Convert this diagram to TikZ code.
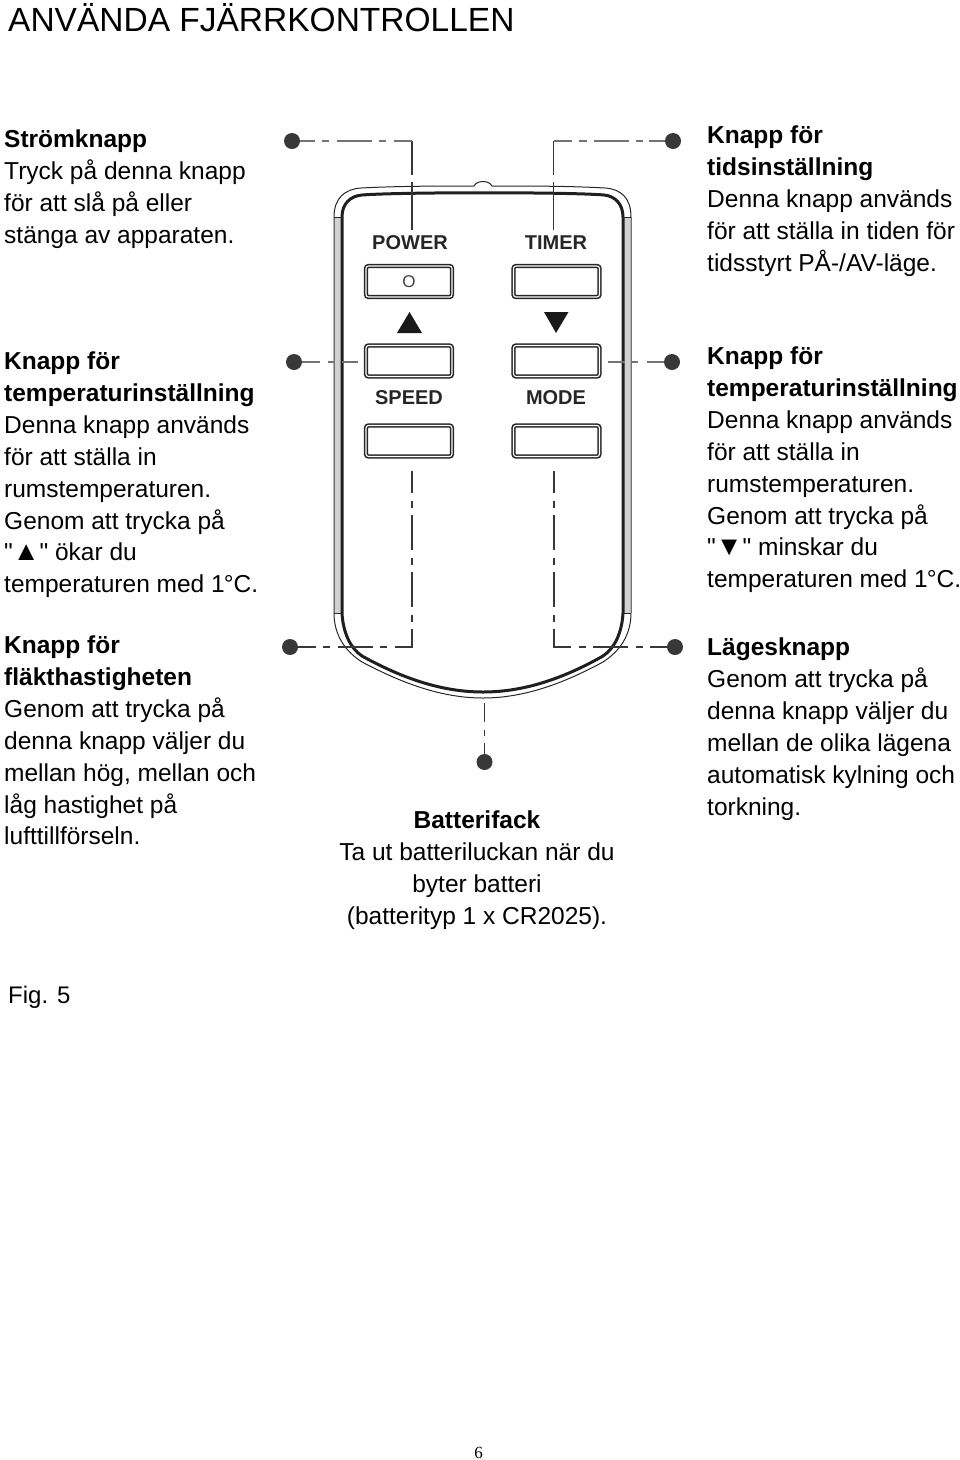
\documentclass[tikz,border=0pt]{standalone}
\usepackage{fontspec}
\setmainfont{Liberation Sans}
\newfontfamily\pagefont{Liberation Serif}
\newfontfamily\quotefont{Liberation Sans}
\newcommand{\strq}{{\quotefont\symbol{34}}}
\usetikzlibrary{positioning}
\tikzset{
  txtblock/.style={anchor=north west, inner sep=0pt, align=left, font=\fontsize{24.5}{31.9}\selectfont, execute at begin node=\strut},
  txtmid/.style={anchor=north, inner sep=0pt, align=center, font=\fontsize{24.5}{31.9}\selectfont, execute at begin node=\strut},
  keybtn/.style={draw=black!85, double=white, line width=1.6pt, double distance=1.1pt, rounded corners=2.5pt, minimum width=86pt, minimum height=31pt, inner sep=0pt},
  keylabel/.style={inner sep=0pt, text=black!85, font=\fontsize{20}{20}\selectfont\bfseries},
  leaddot/.style={circle, fill=black!78, minimum size=16pt, inner sep=0pt},
  leadthin/.style={draw=black!78, line width=1.4pt},
  leadgray/.style={draw=black!55, line width=2.2pt}
}
\begin{document}
\begin{tikzpicture}[x=1pt,y=-1pt]
\useasboundingbox (0,0) rectangle (960,1460);

\node[anchor=base west, inner sep=0pt, font=\fontsize{33.5}{36}\selectfont] (title) at (8,31) {ANVÄNDA FJÄRRKONTROLLEN};

% remote body
\fill[black!18] (335,217) rectangle (341,613);
\fill[black!18] (624,217) rectangle (630,613);
\draw[black!85, line width=1pt] (334,613) -- (334,217) .. controls (334,198) and (345,189) .. (361,188)
  .. controls (400,186) and (440,186) .. (474,186) .. controls (477,180) and (489,180) .. (492,186)
  .. controls (530,186) and (570,186) .. (605,188) .. controls (621,189) and (631,198) .. (631,217) -- (631,613)
  .. controls (631,635) and (620,651) .. (603,662) .. controls (566,682) and (526,698) .. (483,698)
  .. controls (440,698) and (400,682) .. (362,662) .. controls (345,651) and (334,635) .. (334,613);
\draw[black!88, line width=3pt] (342,613) -- (342,217) .. controls (342,204) and (350,196) .. (362,195)
  .. controls (400,192) and (570,192) .. (604,195) .. controls (615,196) and (623,204) .. (623,217) -- (623,613)
  .. controls (622,632) and (615,648) .. (603,656) .. controls (566,677) and (526,692) .. (483,692)
  .. controls (440,692) and (400,677) .. (362,656) .. controls (350,648) and (343,632) .. (342,613);
\draw[black!85, line width=1pt] (334,613) -- (342,613);
\draw[black!85, line width=1pt] (623,613) -- (631,613);
\draw[black!85, line width=1pt] (334,217) -- (342,217);
\draw[black!85, line width=1pt] (623,217) -- (631,217);

\node[keylabel] (lblpower) at (410,243) {POWER};
\node[keylabel] (lbltimer) at (556,243) {TIMER};
\node[keylabel] (lblspeed) at (409,398) {SPEED};
\node[keylabel] (lblmode) at (556,398) {MODE};

\node[keybtn, font=\fontsize{17}{17}\selectfont, text=black!75] (btnpower) at (409,281.5) {O};
\node[keybtn] (btntimer) at (556.5,281.5) {};
\node[keybtn] (btnup) at (409,361) {};
\node[keybtn] (btndown) at (556.5,361) {};
\node[keybtn] (btnspeed) at (409,441) {};
\node[keybtn] (btnmode) at (556.5,441) {};

\fill[black!90] (397,333) -- (409.5,312) -- (422,333) -- cycle;
\fill[black!90] (544,312) -- (568.5,312) -- (556,333) -- cycle;

% leader dots
\node[leaddot] (dotpower) at (292,141) {};
\node[leaddot] (dottimer) at (673,141) {};
\node[leaddot] (dotup) at (294,362) {};
\node[leaddot] (dotdown) at (672,362) {};
\node[leaddot] (dotspeed) at (290,647) {};
\node[leaddot] (dotmode) at (675,647) {};
\node[leaddot] (dotbatt) at (484.5,762) {};

\coordinate (cornerpower) at (412,141);
\coordinate (endpower) at (412,230);
\coordinate (cornertimer) at (553.5,141);
\coordinate (endtimer) at (553.5,230);
\coordinate (endup) at (358,362);
\coordinate (enddown) at (608,362);
\coordinate (endspeed) at (412,471);
\coordinate (cornerspeed) at (412,647);
\coordinate (endmode) at (554,471);
\coordinate (cornermode) at (554,647);
\coordinate (endbatt) at (484.5,703);

\draw[leadthin, dash pattern=on 48pt off 7pt on 40pt] (endpower) -- (cornerpower);
\draw[leadthin, dash pattern=on 48pt off 7pt on 40pt] (endtimer) -- (cornertimer);
\draw[leadgray, dash pattern=on 18pt off 8pt on 7pt off 7pt on 35pt off 8pt on 7pt off 7pt on 30pt] (cornerpower) -- (dotpower);
\draw[leadgray, dash pattern=on 18pt off 7pt on 8pt off 7pt on 35pt off 7pt on 7pt off 6pt on 30pt] (cornertimer) -- (dottimer);
\draw[leadgray, dash pattern=on 16pt off 8pt on 6pt off 8pt on 30pt] (endup) -- (dotup);
\draw[leadgray, dash pattern=on 17pt off 7pt on 6pt off 9pt on 30pt] (enddown) -- (dotdown);
\draw[leadthin, dash pattern=on 35pt off 8pt on 7pt off 7pt, dash phase=13pt] (endspeed) -- (cornerspeed) -- (dotspeed);
\draw[leadthin, dash pattern=on 35pt off 8pt on 7pt off 7pt, dash phase=13pt] (endmode) -- (cornermode) -- (dotmode);
\draw[leadthin, dash pattern=on 19pt off 8pt on 6pt off 7pt on 30pt] (endbatt) -- (dotbatt);

% left column
\node[txtblock] (txtpower) at (4,129.6) {\textbf{Strömknapp}\\Tryck på denna knapp\\för att slå på eller\\stänga av apparaten.};
\node[txtblock] (txtup) at (4,351.6) {\textbf{Knapp för}\\\textbf{temperaturinställning}\\Denna knapp används\\för att ställa in\\rumstemperaturen.\\Genom att trycka på\\\strq{\fontsize{27}{27}\selectfont ▲}\strq{} ökar du\\temperaturen med 1\kern-1pt°C.};
\node[txtblock] (txtspeed) at (4,635.6) {\textbf{Knapp för}\\\textbf{fläkthastigheten}\\Genom att trycka på\\denna knapp väljer du\\mellan hög, mellan och\\låg hastighet på\\lufttillförseln.};

% right column
\node[txtblock] (txttimer) at (707,125.6) {\textbf{Knapp för}\\\textbf{tidsinställning}\\Denna knapp används\\för att ställa in tiden för\\tidsstyrt PÅ-/AV-läge.};
\node[txtblock] (txtdown) at (707,346.6) {\textbf{Knapp för}\\\textbf{temperaturinställning}\\Denna knapp används\\för att ställa in\\rumstemperaturen.\\Genom att trycka på\\\strq{\fontsize{27}{27}\selectfont ▼}\strq{} minskar du\\temperaturen med 1\kern-1pt°C.};
\node[txtblock] (txtmode) at (707,637.6) {\textbf{Lägesknapp}\\Genom att trycka på\\denna knapp väljer du\\mellan de olika lägena\\automatisk kylning och\\torkning.};

\node[txtmid] (txtbatt) at (477,810.6) {\textbf{Batterifack}\\Ta ut batteriluckan när du\\byter batteri\\(batterityp 1 x CR2025).};

\node[anchor=base west, inner sep=0pt, font=\fontsize{24}{30}\selectfont] (figlabel) at (8,1003) {Fig. 5};
\node[anchor=base, inner sep=0pt, font=\fontsize{17}{20}\selectfont\pagefont] (pagenum) at (478.5,1458) {6};
\end{tikzpicture}
\end{document}
